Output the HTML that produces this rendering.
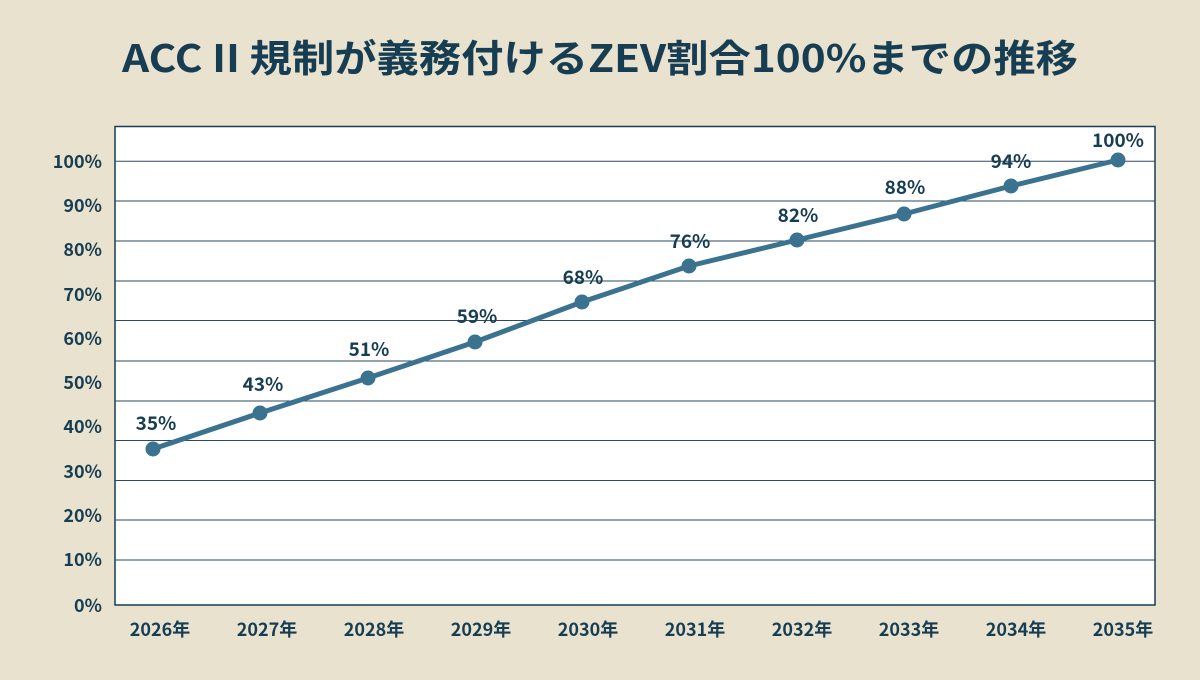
<!DOCTYPE html>
<html><head><meta charset="utf-8"><style>
body{margin:0;width:1200px;height:675px;background:#e8e2cf;overflow:hidden}
</style></head><body>
<svg width="1200" height="675" xmlns="http://www.w3.org/2000/svg" font-family="Noto Sans CJK JP, Liberation Sans, sans-serif" font-weight="bold">
<rect width="1200" height="675" fill="#e8e2cf"/>
<text x="600" y="72" text-anchor="middle" font-size="38" fill="#173d52" textLength="956" lengthAdjust="spacingAndGlyphs">ACC II 規制が義務付けるZEV割合100%までの推移</text>
<rect x="115" y="126.5" width="1040" height="478.5" fill="#fff" stroke="#173d52" stroke-width="1.5"/>
<g stroke="#2a4a5e" stroke-width="1">
<line x1="115" x2="1155" y1="161.3" y2="161.3"/><line x1="115" x2="1155" y1="201" y2="201"/>
<line x1="115" x2="1155" y1="241" y2="241"/><line x1="115" x2="1155" y1="281" y2="281"/>
<line x1="115" x2="1155" y1="320.5" y2="320.5"/><line x1="115" x2="1155" y1="361" y2="361"/>
<line x1="115" x2="1155" y1="401" y2="401"/><line x1="115" x2="1155" y1="440.5" y2="440.5"/>
<line x1="115" x2="1155" y1="480.5" y2="480.5"/><line x1="115" x2="1155" y1="520" y2="520"/>
<line x1="115" x2="1155" y1="560" y2="560"/>
</g>
<g font-size="18" fill="#173d52" text-anchor="end">
<text x="102" y="168">100%</text><text x="102" y="212">90%</text><text x="102" y="256">80%</text>
<text x="102" y="301">70%</text><text x="102" y="345">60%</text><text x="102" y="389">50%</text>
<text x="102" y="433">40%</text><text x="102" y="478">30%</text><text x="102" y="522">20%</text>
<text x="102" y="566">10%</text><text x="102" y="612">0%</text>
</g>
<g font-size="18" fill="#173d52" text-anchor="middle">
<text x="160" y="636">2026年</text><text x="267" y="636">2027年</text><text x="374" y="636">2028年</text>
<text x="481" y="636">2029年</text><text x="588" y="636">2030年</text><text x="695" y="636">2031年</text>
<text x="802" y="636">2032年</text><text x="909" y="636">2033年</text><text x="1016" y="636">2034年</text>
<text x="1123" y="636">2035年</text>
</g>
<polyline fill="none" stroke="#3b7290" stroke-width="5" stroke-linejoin="round" points="153,449 260,413 368,378 475,342 582,302 689,266 797,240 904,214 1011,186 1118,160"/>
<g fill="#3b7290">
<circle cx="153" cy="449" r="7.5"/><circle cx="260" cy="413" r="7.5"/><circle cx="368" cy="378" r="7.5"/>
<circle cx="475" cy="342" r="7.5"/><circle cx="582" cy="302" r="7.5"/><circle cx="689" cy="266" r="7.5"/>
<circle cx="797" cy="240" r="7.5"/><circle cx="904" cy="214" r="7.5"/><circle cx="1011" cy="186" r="7.5"/>
<circle cx="1118" cy="160" r="7.5"/>
</g>
<g font-size="19" fill="#173d52" text-anchor="middle">
<text x="156" y="430">35%</text><text x="263" y="391">43%</text><text x="369" y="356">51%</text>
<text x="477" y="323">59%</text><text x="583" y="284">68%</text><text x="690" y="248">76%</text>
<text x="798" y="222">82%</text><text x="905" y="194">88%</text><text x="1011" y="168">94%</text>
<text x="1118" y="147">100%</text>
</g>
</svg>
</body></html>
